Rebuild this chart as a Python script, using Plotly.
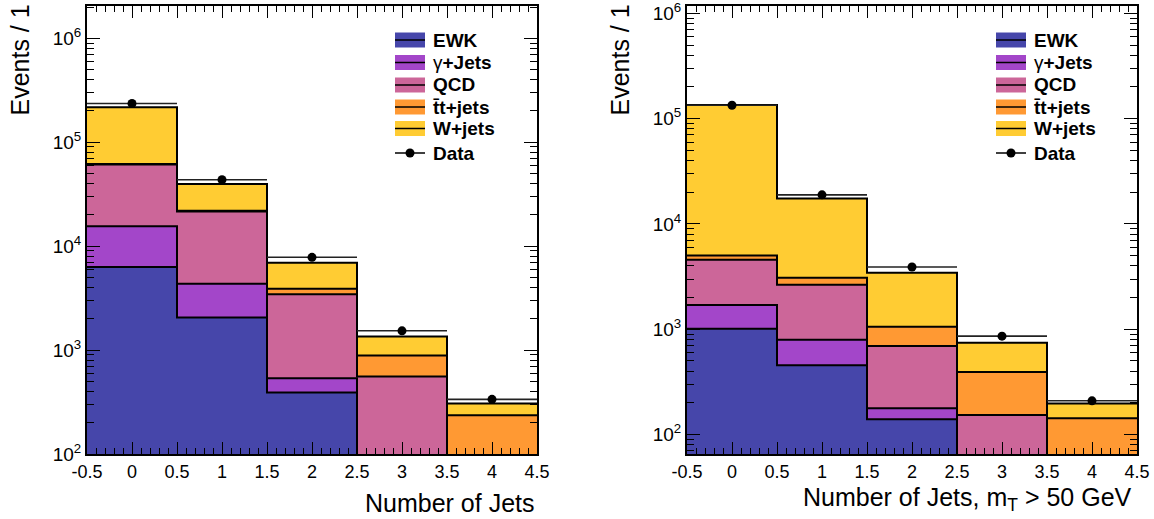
import numpy as np
import plotly.graph_objects as go

W_PX, H_PX = 1154, 519

bin_centers = [0, 1, 2, 3, 4]
bin_edges = [-0.5, 0.5, 1.5, 2.5, 3.5, 4.5]
x_tick_vals = [-0.5, 0, 0.5, 1, 1.5, 2, 2.5, 3, 3.5, 4, 4.5]
x_tick_text = ["-0.5", "0", "0.5", "1", "1.5", "2", "2.5", "3", "3.5", "4", "4.5"]

process_labels = ["<b>EWK</b>", "γ<b>+Jets</b>", "<b>QCD</b>", "<b>t\u0304t+jets</b>", "<b>W+jets</b>"]
process_colors = ["#4646aa", "#a346c9", "#cc6699", "#ff9933", "#ffcc33"]

# Inclusive selection: events per jet multiplicity bin
ewk_all = [6300, 2050, 390, 0, 0]
gjets_all = [9200, 2300, 145, 0, 0]
qcd_all = [45500, 17200, 2900, 555, 0]
ttbar_all = [600, 300, 460, 330, 235]
wjets_all = [155000, 17700, 3030, 465, 70]
data_all = [236000, 43500, 7800, 1530, 335]

# Selection with transverse mass mT > 50 GeV
ewk_mt = [1010, 455, 140, 0, 0]
gjets_mt = [685, 340, 38, 0, 0]
qcd_mt = [2875, 1845, 515, 153, 0]
ttbar_mt = [450, 440, 360, 240, 143]
wjets_mt = [130000, 14400, 2390, 352, 54]
data_mt = [134000, 18900, 3900, 860, 209]

FLOOR = 1e-2
FONT = "Liberation Sans, Arial, Helvetica, sans-serif"

fig = go.Figure()


def step_y(vals):
    v = [float(x) if x > 0 else FLOOR for x in vals]
    return v + [v[-1]]


def add_panel(stacks, data, xa, ya):
    cum = np.cumsum(np.array(stacks, dtype=float), axis=0)
    # baseline far below the visible range for the first filled layer
    fig.add_trace(go.Scatter(x=bin_edges, y=[FLOOR] * len(bin_edges), mode="lines",
                             line=dict(width=0, shape="hv"), xaxis=xa, yaxis=ya,
                             showlegend=False, hoverinfo="skip"))
    for i, color in enumerate(process_colors):
        fig.add_trace(go.Scatter(x=bin_edges, y=step_y(cum[i]), mode="lines",
                                 line=dict(width=0, shape="hv"), fill="tonexty",
                                 fillcolor=color, xaxis=xa, yaxis=ya,
                                 showlegend=False, hoverinfo="skip"))
    for i in range(len(process_colors)):
        fig.add_trace(go.Scatter(x=bin_edges, y=step_y(cum[i]), mode="lines",
                                 line=dict(width=2, shape="hv", color="black"),
                                 xaxis=xa, yaxis=ya, showlegend=False, hoverinfo="skip"))
    fig.add_trace(go.Scatter(x=bin_centers, y=data, mode="markers",
                             marker=dict(color="black", size=9),
                             error_x=dict(type="constant", value=0.5, width=0,
                                          thickness=1.6, color="#222222"),
                             xaxis=xa, yaxis=ya, showlegend=False))


add_panel([ewk_all, gjets_all, qcd_all, ttbar_all, wjets_all], data_all, "x", "y")
add_panel([ewk_mt, gjets_mt, qcd_mt, ttbar_mt, wjets_mt], data_mt, "x2", "y2")

# axes
y_tick_vals = [1e2, 1e3, 1e4, 1e5, 1e6]
y_tick_text = ["10<sup>2</sup>", "10<sup>3</sup>", "10<sup>4</sup>", "10<sup>5</sup>", "10<sup>6</sup>"]

y_dom = [1 - 454 / H_PX, 1 - 6 / H_PX]


def xaxis_cfg(x0, x1, anchor):
    return dict(domain=[x0 / W_PX, x1 / W_PX], range=[-0.5, 4.5], anchor=anchor,
                automargin=False,
                tickmode="array", tickvals=x_tick_vals, ticktext=x_tick_text,
                ticks="inside", ticklen=12, tickwidth=1, tickcolor="black",
                minor=dict(tick0=-0.5, dtick=0.1, ticks="inside", ticklen=6,
                           tickwidth=1, tickcolor="black", showgrid=False),
                showline=True, linewidth=2, linecolor="black", mirror="allticks",
                showgrid=False, zeroline=False,
                tickfont=dict(family=FONT, size=18, color="black"))


def yaxis_cfg(lo, hi, anchor):
    return dict(domain=y_dom, type="log", range=[lo, hi], anchor=anchor,
                automargin=False,
                tickmode="array", tickvals=y_tick_vals, ticktext=y_tick_text,
                ticks="inside", ticklen=13, tickwidth=1, tickcolor="black",
                minor=dict(dtick="D1", ticks="inside", ticklen=7, tickwidth=1,
                           tickcolor="black", showgrid=False),
                showline=True, linewidth=2, linecolor="black", mirror="allticks",
                showgrid=False, zeroline=False,
                tickfont=dict(family=FONT, size=19, color="black"))


fig.update_layout(
    width=W_PX, height=H_PX,
    margin=dict(l=0, r=0, t=0, b=0, autoexpand=False),
    paper_bgcolor="white", plot_bgcolor="white",
    xaxis=xaxis_cfg(87, 537, "y"),
    yaxis=yaxis_cfg(1.999, 6.311, "x"),
    xaxis2=xaxis_cfg(687, 1137, "y2"),
    yaxis2=yaxis_cfg(1.815, 6.07, "x2"),
)

shapes = []
annotations = []


def px_y(py):
    return 1 - py / H_PX


def add_legend(box_x0):
    rows = [40, 62.5, 85, 107, 128.5]
    for label, color, yc in zip(process_labels, process_colors, rows):
        shapes.append(dict(type="rect", xref="paper", yref="paper",
                           x0=box_x0 / W_PX, x1=(box_x0 + 30) / W_PX,
                           y0=px_y(yc + 7.5), y1=px_y(yc - 7.5),
                           fillcolor=color, line=dict(width=0)))
        shapes.append(dict(type="line", xref="paper", yref="paper",
                           x0=box_x0 / W_PX, x1=(box_x0 + 30) / W_PX,
                           y0=px_y(yc), y1=px_y(yc), line=dict(color="black", width=1.5)))
        annotations.append(dict(text=label, xref="paper", yref="paper",
                                x=(box_x0 + 36) / W_PX, y=px_y(yc),
                                xanchor="left", yanchor="middle", showarrow=False,
                                font=dict(family=FONT, size=19, color="black")))
    yd = 153
    shapes.append(dict(type="line", xref="paper", yref="paper",
                       x0=box_x0 / W_PX, x1=(box_x0 + 30) / W_PX,
                       y0=px_y(yd), y1=px_y(yd), line=dict(color="black", width=1.5)))
    shapes.append(dict(type="circle", xref="paper", yref="paper",
                       x0=(box_x0 + 10.5) / W_PX, x1=(box_x0 + 19.5) / W_PX,
                       y0=px_y(yd + 4.5), y1=px_y(yd - 4.5),
                       fillcolor="black", line=dict(color="black", width=0)))
    annotations.append(dict(text="<b>Data</b>", xref="paper", yref="paper",
                            x=(box_x0 + 36) / W_PX, y=px_y(yd),
                            xanchor="left", yanchor="middle", showarrow=False,
                            font=dict(family=FONT, size=19, color="black")))


add_legend(395)
add_legend(996)

# axis titles
for xc in (19, 619):
    annotations.append(dict(text="Events / 1", xref="paper", yref="paper",
                            x=xc / W_PX, y=px_y(3), xanchor="center", yanchor="top",
                            textangle=-90, showarrow=False,
                            font=dict(family=FONT, size=25, color="black")))
annotations.append(dict(text="Number of Jets", xref="paper", yref="paper",
                        x=537 / W_PX, y=px_y(503), xanchor="right", yanchor="middle",
                        showarrow=False, font=dict(family=FONT, size=25, color="black")))
annotations.append(dict(text="Number of Jets, m<sub>T</sub> > 50 GeV", xref="paper", yref="paper",
                        x=1134 / W_PX, y=px_y(499), xanchor="right", yanchor="middle",
                        showarrow=False, font=dict(family=FONT, size=25, color="black")))

fig.update_layout(shapes=shapes, annotations=annotations)

fig.write_html("out.html")
